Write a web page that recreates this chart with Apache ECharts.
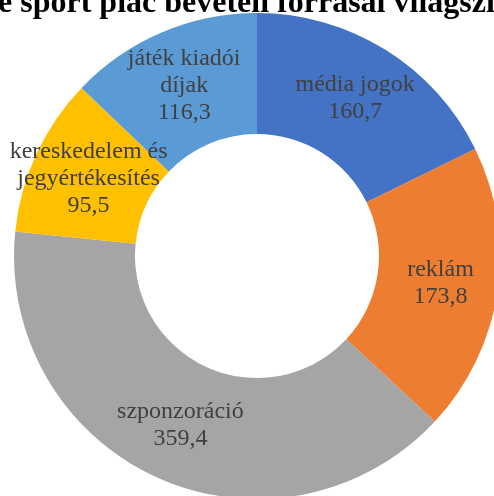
<!DOCTYPE html>
<html>
<head>
<meta charset="utf-8">
<script src="https://cdn.jsdelivr.net/npm/echarts@6/dist/echarts.min.js"></script>
<style>
  html, body { margin: 0; padding: 0; background: #fff; }
  #chart { width: 494px; height: 496px; }
</style>
</head>
<body>
<div id="chart"></div>
<script>
// Revenue sources of the e-sport market (values in the order drawn, clockwise from 12 o'clock)
const categories = ['média jogok', 'reklám', 'szponzoráció', 'kereskedelem és jegyértékesítés', 'játék kiadói díjak'];
const values = [160.7, 173.8, 359.4, 95.5, 116.3];
// how each category name is split over lines inside its ring segment
const nameLines = [['média jogok'], ['reklám'], ['szponzoráció'], ['kereskedelem és', 'jegyértékesítés'], ['játék kiadói', 'díjak']];
const colors = ['#4472C4', '#ED7D31', '#A5A5A5', '#FFC000', '#5B9BD5'];
const titleText = 'Az e sport piac bevételi forrásai világszinten';

const chart = echarts.init(document.getElementById('chart'), null, { renderer: 'canvas' });

const fmt = v => String(v).replace('.', ',');
const labelFont = {
  fontFamily: '"Liberation Serif", "Times New Roman", serif',
  fontSize: 24,
  lineHeight: 27,
  color: '#404040'
};

chart.setOption({
  animation: false,
  backgroundColor: '#ffffff',
  graphic: [{
    type: 'text',
    x: 254,
    y: 20,
    style: {
      text: titleText,
      font: 'bold 32px "Liberation Serif"',
      fill: '#000000',
      textAlign: 'center',
      textVerticalAlign: 'bottom'
    },
    z: 10
  }],
  series: [{
    type: 'pie',
    center: [257, 256],
    radius: [122, 243],
    startAngle: 90,
    clockwise: true,
    avoidLabelOverlap: false,
    itemStyle: { borderWidth: 0 },
    label: Object.assign({
      show: true,
      position: 'inside',
      align: 'center',
      formatter: p => nameLines[p.dataIndex].map(s => '{t|' + s + '}').join('\n') + '\n{t|' + fmt(p.value) + '}',
      rich: { t: labelFont }
    }, labelFont),
    labelLayout: { hideOverlap: false },
    labelLine: { show: false },
    emphasis: { disabled: true },
    data: categories.map((name, i) => ({
      name: name,
      value: values[i],
      itemStyle: { color: colors[i] }
    }))
  }]
});
</script>
</body>
</html>
